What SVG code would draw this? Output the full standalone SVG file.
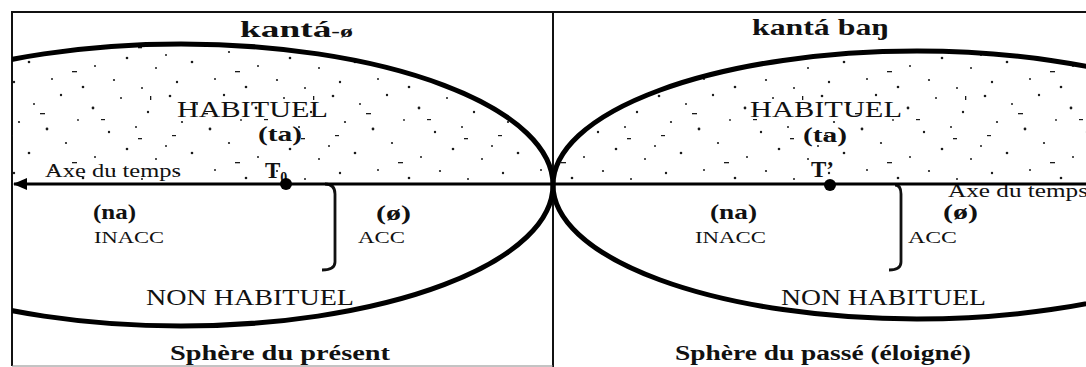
<svg xmlns="http://www.w3.org/2000/svg" width="1086" height="367" viewBox="0 0 1086 367">
<style>
.f{font-family:"Liberation Serif","Times New Roman",serif;fill:#111}
.b{font-weight:bold}
.frame{stroke:#111;stroke-width:2;fill:none}
.ell{stroke:#000;stroke-width:5;fill:none}
.axis{stroke:#000;stroke-width:2.8;fill:none}
.br{stroke:#111;stroke-width:2.8;fill:none}
</style>
<defs>
<pattern id="stip" patternUnits="userSpaceOnUse" width="163" height="91">
<g fill="#1a1a1a">
<circle cx="7" cy="5" r="1.3"/><circle cx="34" cy="13" r="1"/><circle cx="61" cy="4" r="1.2"/><circle cx="93" cy="17" r="1.4"/>
<circle cx="121" cy="7" r="1"/><circle cx="148" cy="21" r="1.2"/><circle cx="19" cy="31" r="1.1"/><circle cx="47" cy="38" r="1.4"/>
<circle cx="78" cy="29" r="0.9"/><circle cx="109" cy="41" r="1.2"/><circle cx="136" cy="36" r="1"/><circle cx="3" cy="55" r="1"/>
<circle cx="29" cy="62" r="1.3"/><circle cx="66" cy="52" r="1.1"/><circle cx="95" cy="66" r="1"/><circle cx="127" cy="58" r="1.3"/>
<circle cx="156" cy="68" r="1"/><circle cx="14" cy="82" r="1.2"/><circle cx="52" cy="79" r="1"/><circle cx="83" cy="87" r="1.3"/>
<circle cx="114" cy="80" r="1.1"/><circle cx="142" cy="88" r="1"/>
<rect x="40" y="22" width="5" height="1.3"/><rect x="101" y="28" width="4" height="1.2"/><rect x="72" y="71" width="5" height="1.3"/>
<rect x="138" y="47" width="4" height="1.3"/><rect x="9" y="44" width="4" height="1.2"/><rect x="150" y="5" width="1.3" height="4"/>
</g>
</pattern>
<clipPath id="clipL"><rect x="12" y="10" width="541" height="174"/></clipPath>
<clipPath id="clipR"><rect x="553" y="10" width="533" height="174"/></clipPath>
<clipPath id="frameClip"><rect x="12" y="12" width="1074" height="355"/></clipPath>
<marker id="arr" viewBox="0 0 14 12" refX="1" refY="6" markerWidth="14" markerHeight="12" markerUnits="userSpaceOnUse" orient="auto">
<path d="M14,0 L0,6 L14,12 Z" fill="#000"/>
</marker>
</defs>
<rect width="1086" height="367" fill="#fff"/>

<g id="frame">
<line class="frame" x1="11" y1="12" x2="1086" y2="12"/>
<line class="frame" x1="12" y1="11" x2="12" y2="366"/>
<line class="frame" x1="553" y1="11" x2="553" y2="367"/>
<line x1="12" y1="366" x2="553" y2="366" stroke="#888" stroke-width="1"/>
</g>

<g id="sphere-present">
<g clip-path="url(#frameClip)">
<ellipse cx="181" cy="185" rx="372" ry="141" fill="url(#stip)" clip-path="url(#clipL)" stroke="none"/>
<ellipse class="ell" cx="181" cy="185" rx="372" ry="141"/>
</g>
<text class="f b" x="240" y="37" font-size="23" textLength="113" lengthAdjust="spacingAndGlyphs">kantá<tspan font-size="16">-ø</tspan></text>
<text class="f" x="177" y="117" font-size="23" textLength="151" lengthAdjust="spacingAndGlyphs">HABITUEL</text>
<text class="f b" x="258" y="141" font-size="21" textLength="44" lengthAdjust="spacingAndGlyphs">(ta)</text>
<text class="f" x="45" y="177" font-size="19" textLength="136" lengthAdjust="spacingAndGlyphs">Axe du temps</text>
<text class="f b" x="265" y="178" font-size="23">T<tspan font-size="14" dy="4">0</tspan></text>
<circle cx="286" cy="184" r="6" fill="#000"/>
<text class="f b" x="93" y="219" font-size="21" textLength="43" lengthAdjust="spacingAndGlyphs">(na)</text>
<text class="f" x="94" y="243" font-size="17" textLength="70" lengthAdjust="spacingAndGlyphs">INACC</text>
<text class="f b" x="376" y="220" font-size="21" textLength="35" lengthAdjust="spacingAndGlyphs">(ø)</text>
<text class="f" x="358" y="243" font-size="17" textLength="47" lengthAdjust="spacingAndGlyphs">ACC</text>
<path class="br" d="M325,184 Q335,184 335,194 L335,262 Q335,270 322,270"/>
<text class="f" x="146" y="305" font-size="23" textLength="208" lengthAdjust="spacingAndGlyphs">NON HABITUEL</text>
<text class="f b" x="170" y="360" font-size="20" textLength="220" lengthAdjust="spacingAndGlyphs">Sphère du présent</text>
</g>

<g id="sphere-passe">
<g clip-path="url(#frameClip)">
<ellipse cx="917" cy="185" rx="364" ry="134" fill="url(#stip)" clip-path="url(#clipR)" stroke="none"/>
<ellipse class="ell" cx="917" cy="185" rx="364" ry="134"/>
</g>
<text class="f b" x="752" y="35" font-size="24" textLength="137" lengthAdjust="spacingAndGlyphs">kantá baŋ</text>
<text class="f" x="750" y="117" font-size="23" textLength="152" lengthAdjust="spacingAndGlyphs">HABITUEL</text>
<text class="f b" x="803" y="142" font-size="21" textLength="44" lengthAdjust="spacingAndGlyphs">(ta)</text>
<text class="f b" x="811" y="177" font-size="23">T’</text>
<circle cx="830" cy="185" r="6" fill="#000"/>
<text class="f" x="948" y="197" font-size="19" textLength="140" lengthAdjust="spacingAndGlyphs">Axe du temps</text>
<text class="f b" x="943" y="219" font-size="21" textLength="35" lengthAdjust="spacingAndGlyphs">(ø)</text>
<text class="f" x="908" y="243" font-size="17" textLength="49" lengthAdjust="spacingAndGlyphs">ACC</text>
<path class="br" d="M895,185 Q901,185 901,194 L901,262 Q901,270 889,270"/>
<text class="f b" x="710" y="219" font-size="21" textLength="47" lengthAdjust="spacingAndGlyphs">(na)</text>
<text class="f" x="695" y="243" font-size="17" textLength="71" lengthAdjust="spacingAndGlyphs">INACC</text>
<text class="f" x="781" y="305" font-size="23" textLength="205" lengthAdjust="spacingAndGlyphs">NON HABITUEL</text>
<text class="f b" x="675" y="360" font-size="20" textLength="296" lengthAdjust="spacingAndGlyphs">Sphère du passé (éloigné)</text>
</g>

<g id="connectors">
<line class="axis" x1="14" y1="184" x2="1086" y2="184" marker-start="url(#arr)"/>
</g>
</svg>
